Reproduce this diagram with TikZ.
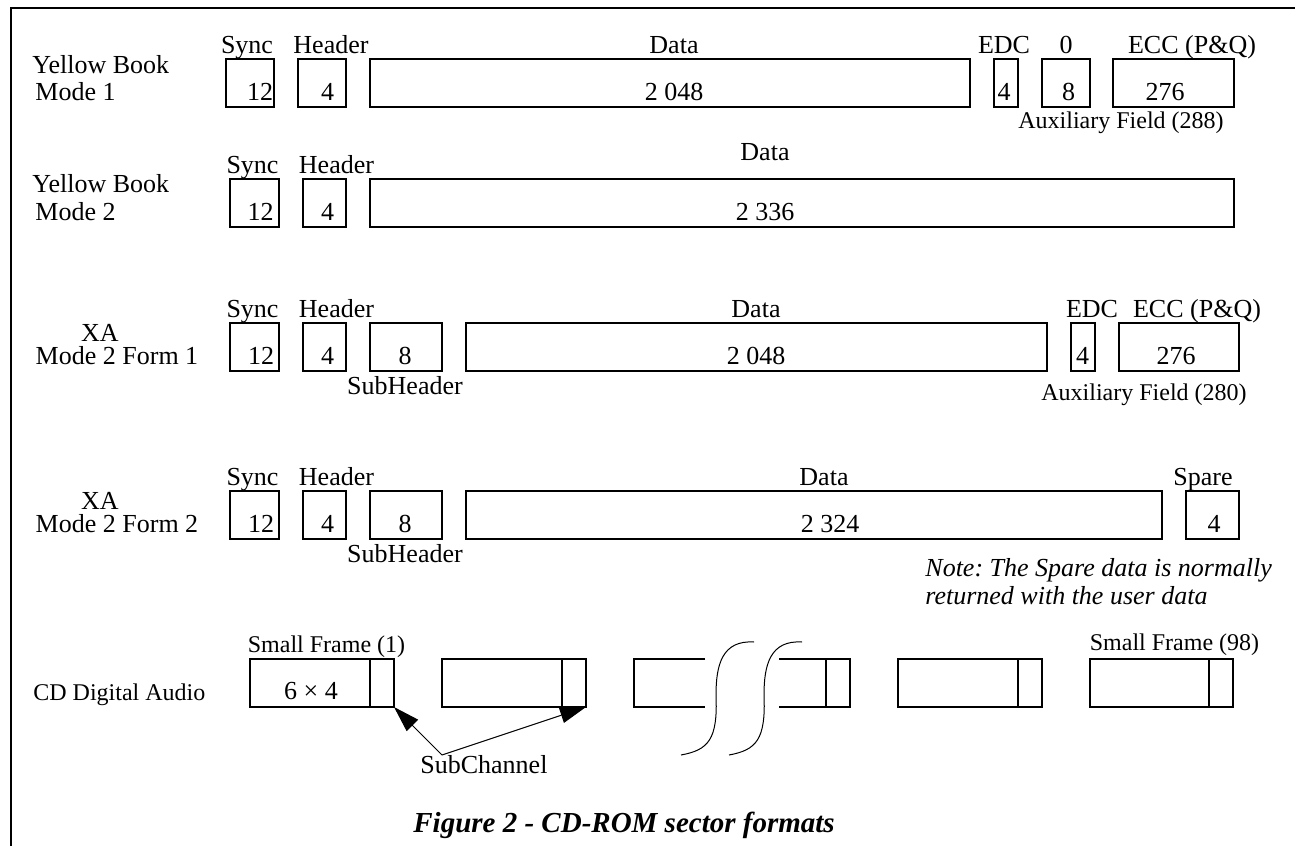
\documentclass[tikz,border=0pt]{standalone}
\usepackage{fontspec}
\setmainfont{Liberation Serif}
\usetikzlibrary{calc, arrows.meta}
\frenchspacing

\begin{document}
\begin{tikzpicture}[x=0.5pt, y=-0.5pt,
        fld/.style={draw, line width=0.75pt, inner sep=0pt, outer sep=0pt,
            minimum height=24pt, minimum width=#1*0.5pt},
        txt/.style={anchor=base, inner sep=0pt, font=\fontsize{13}{14}\selectfont},
        sml/.style={txt, font=\fontsize{12}{14}\selectfont},
        ptr/.style={line width=0.5pt, -{Triangle[length=13pt, width=8pt]}}]
    \useasboundingbox (0,0) rectangle (1295,846);
    \draw[line width=1pt] (11,846) -- (11,8) -- (1295,8);

    \node[txt, anchor=base west] (yb1) at (32,73) {Yellow Book};
    \node[txt, anchor=base west] (md1) at (35,100) {Mode 1};
    \node[fld=48] (sync1) at (250,83) {};
    \node[fld=48] (hdr1) at (322,83) {};
    \node[fld=600] (data1) at (670,83) {};
    \node[fld=24] (edc1) at (1006,83) {};
    \node[fld=48] (zero1) at (1066,83) {};
    \node[fld=121] (ecc1) at (1173.5,83) {};
    \node[txt] (syncl1) at (247,53) {Sync};
    \node[txt] (hdrl1) at (331,53) {Header};
    \node[txt] (datal1) at (674,53) {Data};
    \node[txt] (edcl1) at (1004,53) {EDC};
    \node[txt] (zerol1) at (1066,53) {0};
    \node[txt] (eccl1) at (1192,53) {ECC (P\&Q)};
    \node[txt] (syncn1) at (260,100) {12};
    \node[txt] (hdrn1) at (327.5,100) {4};
    \node[txt] (datan1) at (674,100) {2 048};
    \node[txt] (edcn1) at (1004,100) {4};
    \node[txt] (zeron1) at (1068.5,100) {8};
    \node[txt] (eccn1) at (1165,100) {276};
    \node[sml] (aux1) at (1121,128) {Auxiliary Field (288)};

    \node[txt, anchor=base west] (yb2) at (32,192) {Yellow Book};
    \node[txt, anchor=base west] (md2) at (35,220) {Mode 2};
    \node[fld=49] (sync2) at (254.5,203) {};
    \node[fld=43] (hdr2) at (324.5,203) {};
    \node[fld=864] (data2) at (802,203) {};
    \node[txt] (syncl2) at (252.5,173) {Sync};
    \node[txt] (hdrl2) at (336.5,173) {Header};
    \node[txt] (datal2) at (765,160) {Data};
    \node[txt] (syncn2) at (260.5,220) {12};
    \node[txt] (hdrn2) at (327.5,220) {4};
    \node[txt] (datan2) at (765,220) {2 336};

    \foreach \r/\y/\f in {3/347/1, 4/515/2} {
        \node[txt] (xa\r) at (100,\y-6) {XA};
        \node[txt] (md\r) at (117,\y+17) {Mode 2 Form \f};
        \node[fld=49] (sync\r) at (254.5,\y) {};
        \node[fld=43] (hdr\r) at (324.5,\y) {};
        \node[fld=72] (sub\r) at (406,\y) {};
        \node[txt] (syncl\r) at (252.5,\y-30) {Sync};
        \node[txt] (hdrl\r) at (336.5,\y-30) {Header};
        \node[txt] (syncn\r) at (261,\y+17) {12};
        \node[txt] (hdrn\r) at (327.5,\y+17) {4};
        \node[txt] (subn\r) at (405,\y+17) {8};
        \node[txt] (subl\r) at (405,\y+47) {SubHeader};
    }
    \node[fld=581] (data3) at (756.5,347) {};
    \node[fld=24] (edc3) at (1083,347) {};
    \node[fld=120] (ecc3) at (1179,347) {};
    \node[txt] (datal3) at (756,317) {Data};
    \node[txt] (edcl3) at (1092,317) {EDC};
    \node[txt] (eccl3) at (1197,317) {ECC (P\&Q)};
    \node[txt] (datan3) at (756,364) {2 048};
    \node[txt] (edcn3) at (1082.5,364) {4};
    \node[txt] (eccn3) at (1176,364) {276};
    \node[sml] (aux3) at (1144,400) {Auxiliary Field (280)};

    \node[fld=696] (data4) at (814,515) {};
    \node[fld=53] (spare4) at (1212.5,515) {};
    \node[txt] (datal4) at (824,485) {Data};
    \node[txt] (sparel4) at (1203,485) {Spare};
    \node[txt] (datan4) at (830,532) {2 324};
    \node[txt] (sparen4) at (1214,532) {4};
    \node[txt, anchor=base west, font=\fontsize{13}{14}\selectfont\itshape] (note1) at (925,576) {Note: The Spare data is normally};
    \node[txt, anchor=base west, font=\fontsize{13}{14}\selectfont\itshape] (note2) at (925,604) {returned with the user data};

    \node[sml, anchor=base west] (cdda) at (33,700) {CD Digital Audio};
    \node[fld=144] (f1) at (322,683) {};
    \node[fld=144] (f2) at (514,683) {};
    \node[fld=144] (f4) at (970,683) {};
    \node[fld=143] (f5) at (1161.5,683) {};
    \foreach \f in {f1, f2, f4, f5}
        \draw[line width=0.75pt] ($(\f.north east)+(-24,0)$) -- ($(\f.south east)+(-24,0)$);
    \draw[line width=0.75pt] (705,659) -| (634,707) -- (705,707);
    \draw[line width=0.75pt] (779,659) -| (850,707) -- (779,707);
    \draw[line width=0.75pt] (826,659) -- (826,707);
    \foreach \dx in {0, 48}
        \draw[line width=0.5pt] (754+\dx,642) .. controls (722+\dx,640) and (716+\dx,665) .. (716+\dx,695)
            .. controls (718+\dx,740) and (708+\dx,750) .. (681+\dx,755);
    \node[sml] (sf1) at (326.5,652) {Small Frame (1)};
    \node[sml] (sf98) at (1174.5,650) {Small Frame (98)};
    \node[txt] (f1n) at (311,699) {6 × 4};

    \coordinate (subch) at (442,755);
    \node[txt, anchor=base west] (subchl) at (420,773) {SubChannel};
    \draw[ptr] (subch) -- (f1.south east);
    \draw[ptr] (subch) -- (f2.south east);

    \node[anchor=base west, inner sep=0pt, font=\fontsize{14.5}{16}\selectfont\bfseries\itshape] (title) at (413,832) {Figure 2 - CD-ROM sector formats};
\end{tikzpicture}
\end{document}
